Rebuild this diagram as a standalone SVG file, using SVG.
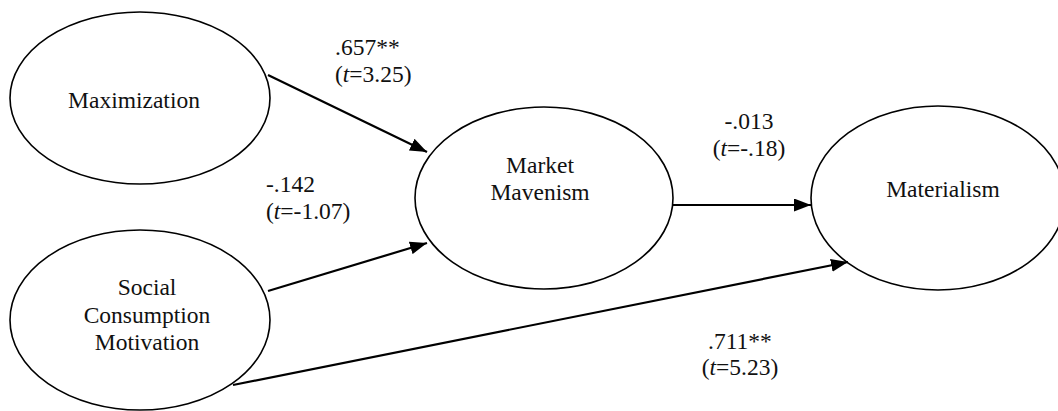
<svg xmlns="http://www.w3.org/2000/svg" width="1058" height="411" viewBox="0 0 1058 411">
<style>
.node{fill:#fff;stroke:#000;stroke-width:1.6}
.lbl{font-family:"Liberation Serif","Times New Roman",serif;font-size:23.5px;fill:#111}
.c{text-anchor:middle}
.edge{stroke:#000;stroke-width:2.2;fill:none;marker-end:url(#arr)}
</style>
<defs>
<marker id="arr" markerUnits="userSpaceOnUse" markerWidth="17" markerHeight="13" refX="17" refY="6.5" orient="auto">
<path d="M0,0 L17,6.5 L0,13 z" fill="#000"/>
</marker>
</defs>
<rect width="1058" height="411" fill="#fff"/>
<g id="maximization">
<ellipse class="node" cx="140" cy="98" rx="130" ry="86"/>
<text class="lbl c" x="134" y="108">Maximization</text>
</g>
<g id="social-consumption-motivation">
<ellipse class="node" cx="140" cy="320" rx="130" ry="90"/>
<text class="lbl c" x="147" y="295">Social</text>
<text class="lbl c" x="147" y="323">Consumption</text>
<text class="lbl c" x="147" y="350">Motivation</text>
</g>
<g id="market-mavenism">
<ellipse class="node" cx="544" cy="198" rx="129" ry="91"/>
<text class="lbl c" x="540" y="173">Market</text>
<text class="lbl c" x="540" y="200">Mavenism</text>
</g>
<g id="materialism">
<ellipse class="node" cx="938" cy="198" rx="127" ry="92"/>
<text class="lbl c" x="943" y="197">Materialism</text>
</g>
<g id="connectors">
<line class="edge" x1="268" y1="75" x2="427" y2="152"/>
<line class="edge" x1="268" y1="291" x2="427" y2="243"/>
<line class="edge" x1="673" y1="205" x2="811" y2="205"/>
<line class="edge" x1="233" y1="385" x2="848" y2="262"/>
</g>
<g id="labels">
<text class="lbl" x="335" y="55">.657**</text>
<text class="lbl" x="335" y="82">(<tspan font-style="italic">t</tspan>=3.25)</text>
<text class="lbl" x="266" y="192">-.142</text>
<text class="lbl" x="266" y="219">(<tspan font-style="italic">t</tspan>=-1.07)</text>
<text class="lbl c" x="749" y="129">-.013</text>
<text class="lbl c" x="749" y="156">(<tspan font-style="italic">t</tspan>=-.18)</text>
<text class="lbl c" x="740" y="349">.711**</text>
<text class="lbl c" x="740" y="375">(<tspan font-style="italic">t</tspan>=5.23)</text>
</g>
</svg>
